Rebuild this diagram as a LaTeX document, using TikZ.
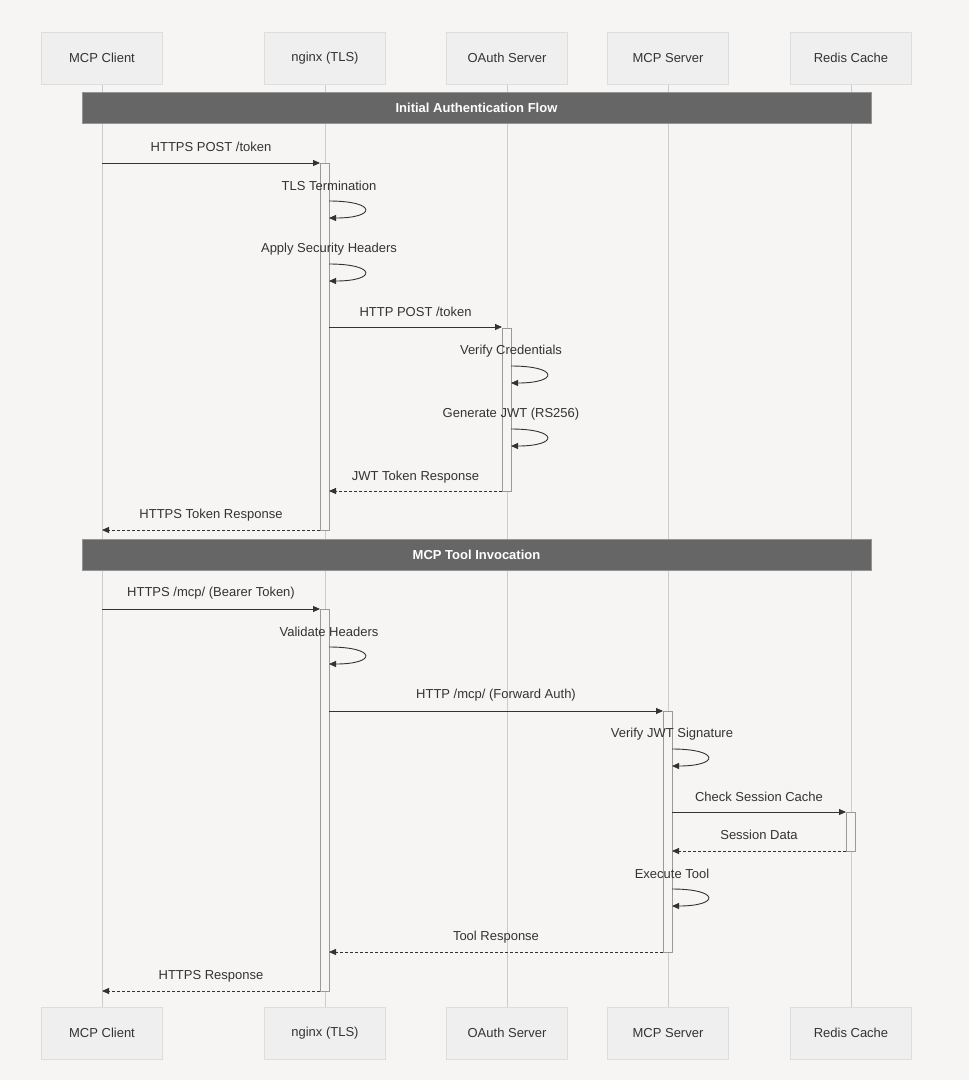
\documentclass[tikz,border=0pt]{standalone}
\usepackage{fontspec}
\setmainfont{Liberation Sans}
\usetikzlibrary{arrows.meta}
\definecolor{bg}{HTML}{F6F5F3}
\definecolor{boxf}{HTML}{EFEFEF}
\definecolor{boxd}{HTML}{DDDDDD}
\definecolor{life}{HTML}{CCCCCC}
\definecolor{bar}{HTML}{666666}
\definecolor{ink}{HTML}{333333}
\tikzset{
  actor/.style={draw=boxd,fill=boxf,minimum width=121pt,minimum height=52pt,font=\fontsize{13}{15}\selectfont,text=ink},
  lifeline/.style={draw=life,line width=1pt},
  actbox/.style={draw=gray!80,fill=bg,line width=0.6pt},
  sect/.style={fill=bar,draw=bar!70,minimum width=789pt,minimum height=31pt,text=white,font=\fontsize{13}{15}\selectfont\bfseries},
  msg/.style={draw=ink,line width=0.9pt,-{Triangle[length=7pt,width=6pt]}},
  rmsg/.style={msg,dash pattern=on 3pt off 2pt},
  lbl/.style={font=\fontsize{13}{15}\selectfont,text=ink}
}
\newcommand{\mymsg}[7]{% name, x1, x2, y, label, style, label y
  \coordinate (#1a) at (#2,#4); \coordinate (#1b) at (#3,#4);
  \draw[#6] (#1a) -- (#1b);
  \node[lbl] (#1l) at ({(#2+#3)/2},#7) {#5};}
\newcommand{\myloop}[5]{% name, x, y1, y2, label
  \coordinate (#1a) at (#2,#3); \coordinate (#1b) at (#2,#4);
  \draw[msg] (#1a) .. controls ({#2+48},#3) and ({#2+48},#4) .. (#1b);
  \node[lbl] (#1l) at (#2,{#3-15}) {#5};}
\begin{document}
\begin{tikzpicture}[x=1pt,y=-1pt]
\fill[bg] (0,0) rectangle (969,1080);
\useasboundingbox (0,0) rectangle (969,1080);
% lifelines
\foreach \x/\n in {102/c,325/n,507/o,668/m,851/r}{
  \draw[lifeline] (\x,84) -- (\x,1007);
}
\foreach \x/\n/\t in {102/c/MCP Client,325/n/nginx (TLS),507/o/OAuth Server,668/m/MCP Server,851/r/Redis Cache}{
  \node[actor] (top\n) at (\x,58) {\t};
  \node[actor] (bot\n) at (\x,1033) {\t};
}
\node[sect] (s1) at (476.5,107.5) {Initial Authentication Flow};
\node[sect] (s2) at (476.5,554.5) {MCP Tool Invocation};
% activations
\draw[actbox] (320,163) rectangle (329,530);
\draw[actbox] (320,609) rectangle (329,991);
\draw[actbox] (502,328) rectangle (511,491);
\draw[actbox] (663,711) rectangle (672,952);
\draw[actbox] (846,812) rectangle (855,851);
% messages
\mymsg{m1}{102}{320}{163}{HTTPS POST /token}{msg}{147}
\myloop{l1}{329}{201}{218}{TLS Termination}
\myloop{l2}{329}{264}{281}{Apply Security Headers}
\mymsg{m2}{329}{502}{327}{HTTP POST /token}{msg}{312}
\myloop{l3}{511}{366}{383}{Verify Credentials}
\myloop{l4}{511}{429}{446}{Generate JWT (RS256)}
\mymsg{m3}{502}{329}{491}{JWT Token Response}{rmsg}{477}
\mymsg{m4}{320}{102}{530}{HTTPS Token Response}{rmsg}{515}
\mymsg{m5}{102}{320}{609}{HTTPS /mcp/ (Bearer Token)}{msg}{593}
\myloop{l5}{329}{647}{664}{Validate Headers}
\mymsg{m6}{329}{663}{711}{HTTP /mcp/ (Forward Auth)}{msg}{695}
\myloop{l6}{672}{749}{766}{Verify JWT Signature}
\mymsg{m7}{672}{846}{812}{Check Session Cache}{msg}{797}
\mymsg{m8}{846}{672}{851}{Session Data}{rmsg}{835}
\myloop{l7}{672}{889}{906}{Execute Tool}
\mymsg{m9}{663}{329}{952}{Tool Response}{rmsg}{937}
\mymsg{m10}{320}{102}{991}{HTTPS Response}{rmsg}{976}
\end{tikzpicture}
\end{document}
